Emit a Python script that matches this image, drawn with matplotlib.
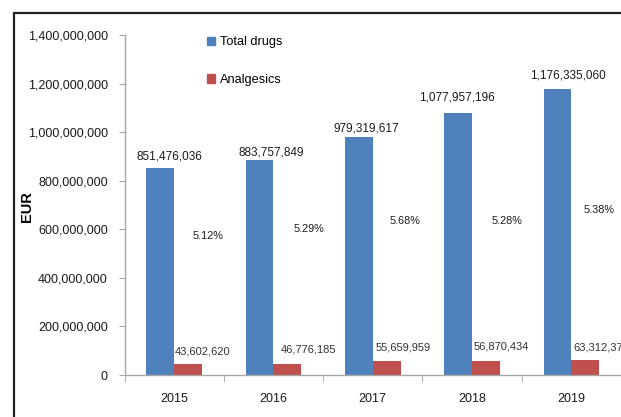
import numpy as np
import matplotlib
matplotlib.use("Agg")
import matplotlib.pyplot as plt
from matplotlib.patches import Patch, Rectangle
from matplotlib.ticker import FuncFormatter

plt.rcParams["font.family"] = ["Liberation Sans", "DejaVu Sans"]

# --- DATA ---
years = ["2015", "2016", "2017", "2018", "2019"]
total_drugs = [851476036, 883757849, 979319617, 1077957196, 1176335060]
analgesics = [43602620, 46776185, 55659959, 56870434, 63312370]
share_labels = ["5.12%", "5.29%", "5.68%", "5.28%", "5.38%"]

# --- LABEL PLACEMENT (hand tuned, like the original) ---
total_lbl_dx = [-0.045, -0.02, -0.065, -0.155, -0.03]
total_lbl_y = [898e6, 918e6, 1017e6, 1141e6, 1235e6]
analg_lbl_dx = [0.29, 0.35, 0.31, 0.29, 0.30]
analg_lbl_y = [98e6, 103e6, 115e6, 119e6, 115e6]
share_lbl_dx = [0.34, 0.36, 0.33, 0.35, 0.28]
share_lbl_y = [572e6, 601e6, 634e6, 634e6, 679e6]

BLUE = "#4F81BD"
RED = "#C0504D"
AXIS_GRAY = "#A6A6A6"
TXT = "#1a1a1a"

fig = plt.figure(figsize=(6.21, 4.17), dpi=100)
ax = fig.add_axes([0.2005, 0.1007, 0.7995, 0.8153])

x = np.arange(len(years))
w = 0.28
ax.bar(x - w / 2, total_drugs, w, color=BLUE, label="Total drugs")
ax.bar(x + w / 2, analgesics, w, color=RED, label="Analgesics")

for i in range(len(years)):
    ax.text(x[i] + total_lbl_dx[i], total_lbl_y[i], f"{total_drugs[i]:,}",
            ha="center", va="center", fontsize=8.5, color=TXT)
    ax.text(x[i] + analg_lbl_dx[i], analg_lbl_y[i], f"{analgesics[i]:,}",
            ha="center", va="center", fontsize=8, color="#333333")
    ax.text(x[i] + share_lbl_dx[i], share_lbl_y[i], share_labels[i],
            ha="center", va="center", fontsize=7.8, color=TXT)

ax.set_xlim(-0.5, len(years) - 0.5)
ax.set_ylim(0, 1.4e9)
ax.set_yticks(np.arange(0, 1.4e9 + 1, 2e8))
ax.yaxis.set_major_formatter(FuncFormatter(lambda v, p: f"{int(v):,}"))
ax.set_xticks(x)
ax.set_xticklabels(years)
ax.set_xticks(np.arange(-0.5, len(years), 1.0), minor=True)

for s in ["top", "right"]:
    ax.spines[s].set_visible(False)
for s in ["left", "bottom"]:
    ax.spines[s].set_color(AXIS_GRAY)
    ax.spines[s].set_linewidth(1.0)

ax.tick_params(axis="y", length=4, color=AXIS_GRAY, labelsize=9, pad=8,
               labelcolor=TXT)
ax.tick_params(axis="x", which="major", length=0, labelsize=9, pad=13,
               labelcolor=TXT)
ax.tick_params(axis="x", which="minor", length=5, color=AXIS_GRAY)

ax.set_ylabel("EUR", fontsize=10.5, fontweight="bold", labelpad=0)
ax.yaxis.set_label_coords(-0.183, 0.495)

handles = [Patch(color=BLUE), Patch(color=RED)]
ax.legend(handles, ["Total drugs", "Analgesics"], loc="upper left",
          bbox_to_anchor=(0.143, 1.03), frameon=False, fontsize=9.2,
          handlelength=0.65, handleheight=0.65, handletextpad=0.4,
          labelspacing=2.0)

# outer frame (cropped on right/bottom in the original)
fig.patches.append(Rectangle((14 / 621, -0.1), 1.2, 1 - 13 / 417 + 0.1,
                             transform=fig.transFigure, fill=False,
                             edgecolor="#222222", linewidth=1.6))

fig.savefig("out.png", dpi=100)
